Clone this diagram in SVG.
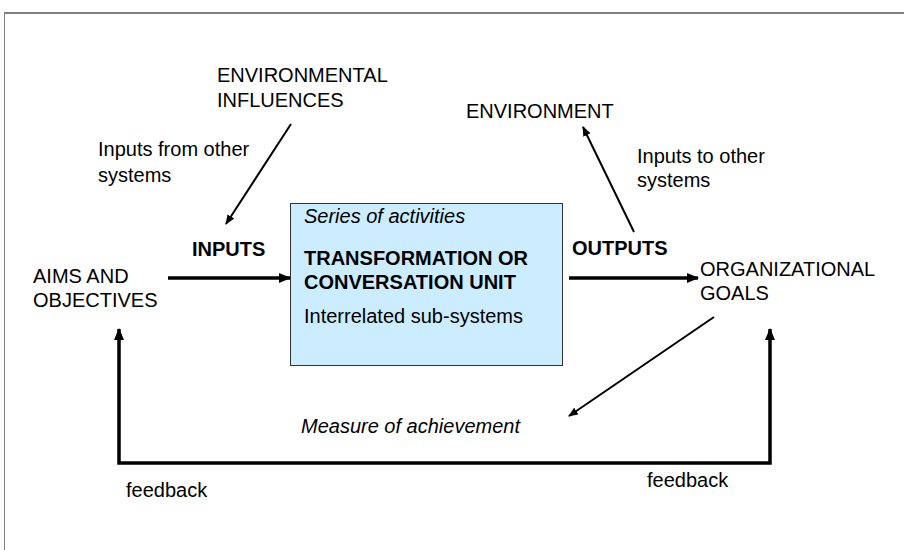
<svg xmlns="http://www.w3.org/2000/svg" width="904" height="550" viewBox="0 0 904 550">
<style>
text{font-family:"Liberation Sans",Arial,sans-serif;font-size:20px;fill:#000}
.b{font-weight:bold}
.i{font-style:italic}
.thin{fill:none;stroke:#000;stroke-width:2}
.thick{fill:none;stroke:#000;stroke-width:3.5}
</style>
<defs>
<marker id="ah" markerUnits="userSpaceOnUse" markerWidth="12" markerHeight="10" refX="11" refY="5" orient="auto"><path d="M0,0 L12,5 L0,10 Z" fill="#000"/></marker>
<marker id="ahs" markerUnits="userSpaceOnUse" markerWidth="10" markerHeight="8" refX="9" refY="4" orient="auto"><path d="M0,0 L10,4 L0,8 Z" fill="#000"/></marker>
</defs>
<rect width="904" height="550" fill="#fff"/>
<path d="M4.5,550 V13 H904" fill="none" stroke="#808080" stroke-width="1"/>
<path d="M4,13 H904" stroke="#808080" stroke-width="2"/>

<g id="unit">
<rect x="290.5" y="203.5" width="272" height="162" fill="#CCECFF" stroke="#333" stroke-width="1"/>
<text class="i" x="304" y="223">Series of activities</text>
<text class="b" x="304" y="265">TRANSFORMATION OR</text>
<text class="b" x="304" y="289">CONVERSATION UNIT</text>
<text x="304" y="323">Interrelated sub-systems</text>
</g>
<g id="env-influences">
<text x="217" y="82">ENVIRONMENTAL</text>
<text x="217" y="107">INFLUENCES</text>
</g>
<g id="inputs-from">
<text x="98" y="156">Inputs from other</text>
<text x="98" y="182">systems</text>
</g>
<g id="inputs"><text class="b" x="192" y="256">INPUTS</text></g>
<g id="aims">
<text x="33" y="283">AIMS AND</text>
<text x="33" y="307">OBJECTIVES</text>
</g>
<g id="environment"><text x="466" y="118">ENVIRONMENT</text></g>
<g id="inputs-to">
<text x="637" y="163">Inputs to other</text>
<text x="637" y="187">systems</text>
</g>
<g id="outputs"><text class="b" x="572" y="255">OUTPUTS</text></g>
<g id="goals">
<text x="700" y="276">ORGANIZATIONAL</text>
<text x="700" y="300">GOALS</text>
</g>
<g id="measure"><text class="i" x="301" y="433">Measure of achievement</text></g>
<g id="feedback-left"><text x="126" y="497">feedback</text></g>
<g id="feedback-right"><text x="647" y="487">feedback</text></g>

<g id="connectors">
<path class="thin" d="M291,124 L226,224" marker-end="url(#ahs)"/>
<path class="thick" d="M168,278 H290" marker-end="url(#ah)"/>
<path class="thick" d="M569,278 H698" marker-end="url(#ah)"/>
<path class="thin" d="M634,232 L583,127" marker-end="url(#ahs)"/>
<path class="thin" d="M714,317 L569,416" marker-end="url(#ahs)"/>
<path class="thick" d="M444,463 H119 V329" marker-end="url(#ah)"/>
<path class="thick" d="M444,463 H770 V329" marker-end="url(#ah)"/>
</g>
</svg>
